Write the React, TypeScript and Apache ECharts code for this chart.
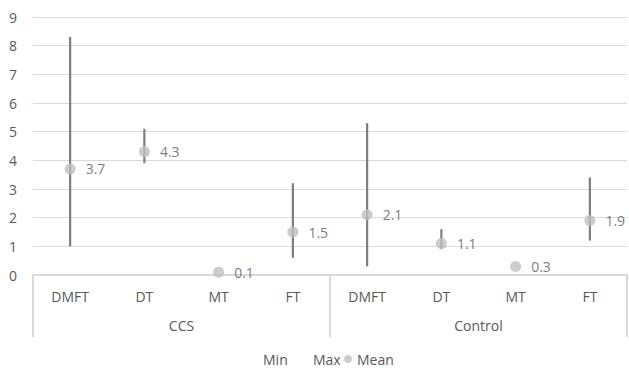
import React, { useEffect, useRef } from "react";
import * as echarts from "echarts";

const categories = ["DMFT", "DT", "MT", "FT", "DMFT", "DT", "MT", "FT"];
const groups = ["CCS", "Control"];
const minValues = [1.0, 3.9, 0.1, 0.6, 0.3, 0.9, 0.3, 1.2];
const maxValues = [8.3, 5.1, 0.1, 3.2, 5.3, 1.6, 0.3, 3.4];
const meanValues = [3.7, 4.3, 0.1, 1.5, 2.1, 1.1, 0.3, 1.9];
const yTicks = [0, 9, 1]; // min, max, interval

const FONT = "'Open Sans', sans-serif";
const TEXT = "#595959";
const LINE = "#d9d9d9";

export default function App() {
  const ref = useRef<HTMLDivElement>(null);
  useEffect(() => {
    if (!ref.current) return;
    const chart = echarts.init(ref.current, undefined, { renderer: "svg" });
    const rangeData = categories.map((_, i) => [i, minValues[i], maxValues[i]]);
    const legendBase = {
      top: 347,
      itemWidth: 8,
      itemHeight: 8,
      textStyle: { color: TEXT, fontSize: 14, fontFamily: FONT },
      selectedMode: false,
    };
    chart.setOption({
      animation: false,
      textStyle: { fontFamily: FONT },
      grid: { left: 33, right: 2, top: 17, bottom: 97, containLabel: false },
      legend: [
        { ...legendBase, data: [{ name: "Min", icon: "none" }], left: 245 },
        { ...legendBase, data: [{ name: "Max", icon: "none" }], left: 295 },
        { ...legendBase, data: [{ name: "Mean", icon: "circle" }], left: 339 },
      ],
      xAxis: [
        {
          type: "category",
          data: categories,
          position: "bottom",
          axisLine: { show: true, lineStyle: { color: LINE, width: 2 } },
          axisTick: { show: false },
          axisLabel: { color: TEXT, fontSize: 14, margin: 14, fontFamily: FONT, interval: 0 },
          splitLine: { show: false },
        },
        {
          type: "category",
          data: groups,
          position: "bottom",
          axisLine: { show: false },
          axisTick: { show: true, length: 62, interval: 0, lineStyle: { color: LINE, width: 2 } },
          axisLabel: { color: TEXT, fontSize: 14, margin: 43, fontFamily: FONT, interval: 0 },
          splitLine: { show: false },
        },
      ],
      yAxis: {
        type: "value",
        min: yTicks[0],
        max: yTicks[1],
        interval: yTicks[2],
        axisLine: { show: false },
        axisTick: { show: false },
        axisLabel: { color: TEXT, fontSize: 14, margin: 16, fontFamily: FONT },
        splitLine: { lineStyle: { color: LINE, width: 1 } },
      },
      series: [
        {
          name: "HighLow",
          type: "custom",
          xAxisIndex: 0,
          data: rangeData,
          encode: { x: 0, y: [1, 2] },
          z: 2,
          silent: true,
          renderItem: (params: any, api: any) => {
            const x = api.value(0);
            const lo = api.coord([x, api.value(1)]);
            const hi = api.coord([x, api.value(2)]);
            return {
              type: "line",
              shape: { x1: lo[0], y1: lo[1], x2: hi[0], y2: hi[1] },
              style: { stroke: "#7f7f7f", lineWidth: 2.2 },
            };
          },
        },
        {
          name: "Min",
          type: "scatter",
          xAxisIndex: 0,
          data: minValues,
          symbol: "none",
          symbolSize: 0,
          silent: true,
        },
        {
          name: "Max",
          type: "scatter",
          xAxisIndex: 0,
          data: maxValues,
          symbol: "none",
          symbolSize: 0,
          silent: true,
        },
        {
          name: "Mean",
          type: "scatter",
          xAxisIndex: 0,
          data: meanValues,
          symbol: "circle",
          symbolSize: 11,
          z: 5,
          itemStyle: { color: "#bfbfbf" },
          label: {
            show: true,
            position: "right",
            distance: 10,
            color: TEXT,
            fontSize: 14,
            fontFamily: FONT,
            formatter: (p: any) => p.value.toFixed(1),
          },
        },
      ],
    });
    return () => chart.dispose();
  }, []);
  return (
    <div
      ref={ref}
      style={{ position: "absolute", left: 0, top: 0, width: 629, height: 372, background: "#fff" }}
    />
  );
}
